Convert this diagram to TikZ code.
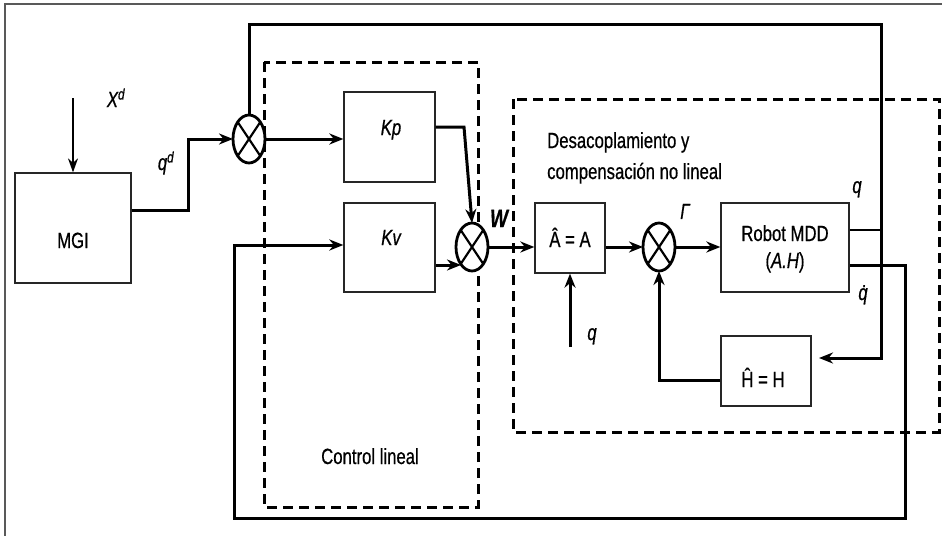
\documentclass[tikz,border=0pt]{standalone}
\usepackage{fontspec}
\IfFontExistsTF{Liberation Sans Narrow}{\setmainfont{Liberation Sans Narrow}[FakeStretch=0.92,FakeBold=0.6]}{\setmainfont{Liberation Sans}[FakeStretch=0.76,FakeBold=0.6]}
\usetikzlibrary{arrows.meta,shapes.geometric}
\begin{document}
\begin{tikzpicture}[x=1pt,y=-1pt,
  blk/.style={draw=black!85, line width=1.3pt, inner sep=0pt, fill=white},
  sum/.style={ellipse, draw, line width=2.8pt, minimum width=32pt, minimum height=48pt, inner sep=0pt, outer sep=0pt, fill=white},
  wire/.style={line width=3pt},
  arr/.style={wire,-{Stealth[length=14pt,width=11pt,inset=4.5pt]}},
  thinarr/.style={line width=1.3pt,-{Stealth[length=14pt,width=10pt,inset=4.5pt]}},
  grp/.style={dash pattern=on 10pt off 6pt, line width=3pt},
  txt/.style={font=\fontsize{22}{24}\selectfont, inner sep=0pt},
  itxt/.style={font=\fontsize{22}{24}\selectfont\itshape, inner sep=0pt}]
\useasboundingbox (0,0) rectangle (942,536);
% outer frame (top and left only)
\draw[black!65, line width=1.8pt] (942,4) -- (5,4) -- (5,536);
% dashed groups
\draw[grp] (264,62) rectangle (478,507);
\draw[grp] (513,99) rectangle (939,432);
% blocks
\node[blk, minimum width=116pt, minimum height=110pt] (mgi) at (73,228) {};
\node[blk, minimum width=91pt, minimum height=90pt] (kp) at (389.5,137) {};
\node[blk, minimum width=91pt, minimum height=89pt] (kv) at (389.5,247.5) {};
\node[blk, minimum width=70pt, minimum height=70pt] (ah) at (570,238) {};
\node[blk, minimum width=128pt, minimum height=89pt] (rob) at (785,247.5) {};
\node[blk, minimum width=90pt, minimum height=70pt] (hh) at (766,371) {};
% summing junctions
\node[sum] (c1) at (249,139) {};
\node[sum] (c2) at (472,247) {};
\node[sum] (c3) at (659,247) {};
\foreach \c in {c1,c2,c3}
  \draw[line width=2.2pt] (\c.north west) -- (\c.south east) (\c.north east) -- (\c.south west);
% coordinates
\coordinate (xd) at (73,98);
\coordinate (qin) at (570,347);
\coordinate (hhin) at (819,358);
\coordinate (c2kv) at (461,265);
% connectors
\draw[thinarr] (xd) -- (mgi.north);
\draw[arr] (mgi.east |- 0,210) -- (188,210) |- (c1.west);
\draw[arr] (c1.east) -- (kp.west |- c1.east);
\draw[arr] (c1.north) |- (881,24) -- (881,358) -- (hhin);
\draw[arr] (kp.east |- 0,127) -- (464,127) -- (c2.north);
\draw[arr] (kv.east |- 0,265) -- (c2kv);
\draw[arr] (c2.east) -- (ah.west |- c2.east);
\draw[arr] (ah.east |- c2.east) -- (c3.west);
\draw[arr] (qin) -- (ah.south);
\draw[arr] (c3.east) -- (rob.west |- c3.east);
\draw[arr] (hh.west |- 0,380) -| (c3.south);
\draw[line width=1.3pt] (rob.east |- 0,230) -- (881,230);
\draw[arr] (rob.east |- 0,265) -| (905,518) -| (234,245) -- (kv.west |- 0,245);
% texts
\node[txt, anchor=base] (tmgi) at (73,248) {MGI};
\node[itxt, anchor=base] (tkp) at (391,135) {Kp};
\node[itxt, anchor=base] (tkv) at (391,245) {Kv};
\node[txt, anchor=base] (tah) at (570,247) {Â = A};
\node[txt, anchor=base] (thh) at (763,387) {Ĥ = H};
\node[txt, anchor=base] (trob1) at (785,241) {Robot MDD};
\node[txt, anchor=base] (trob2) at (785,268) {(\textit{A.H})};
\node[itxt, anchor=base] (txd) at (116,107) {X\textsuperscript{d}};
\node[itxt, anchor=base] (tqd) at (166,170) {q\textsuperscript{d}};
\node[inner sep=0pt, anchor=base, font=\fontsize{25}{26}\selectfont\bfseries\itshape] (tw) at (499,227) {W};
\node[itxt, anchor=base] (tg) at (685,219) {Γ};
\node[itxt, anchor=base] (tq1) at (857,193) {q};
\node[itxt, anchor=base] (tq2) at (863,300) {q\char"0307};
\node[itxt, anchor=base] (tq3) at (592,340) {q};
\node[txt, anchor=base west] (td1) at (547,148) {Desacoplamiento y};
\node[txt, anchor=base west] (td2) at (547,179) {compensación no lineal};
\node[txt, anchor=base] (tcl) at (370,464) {Control lineal};
\end{tikzpicture}
\end{document}
